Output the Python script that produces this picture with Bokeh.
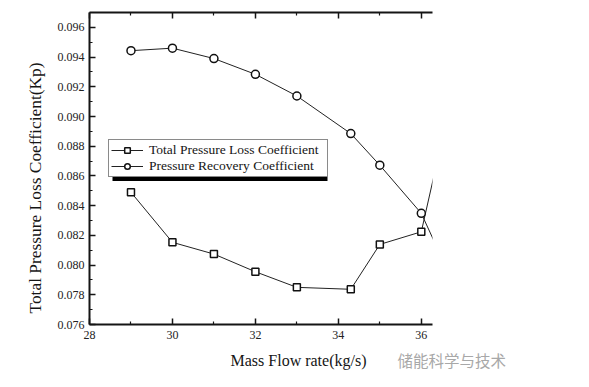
from bokeh.plotting import figure
from bokeh.models import (LinearAxis, Legend, LegendItem, Title, BoxAnnotation,
                          FixedTicker, Range1d, PrintfTickFormatter)
from bokeh.embed import file_html
from bokeh.resources import INLINE

# ---- data ----
mass_flow = [29, 30, 31, 32, 33, 34.3, 35, 36, 37]
loss_coef = [0.0849, 0.08153, 0.08074, 0.07955, 0.0785, 0.07837, 0.08139, 0.08224, 0.0946]
recovery_coef = [0.09443, 0.0946, 0.0939, 0.09284, 0.09138, 0.08885, 0.08672, 0.08348, 0.0774]
x_ticks = [28, 30, 32, 34, 36]
x_minor = [29, 31, 33, 35]
y_ticks = [0.076, 0.078, 0.080, 0.082, 0.084, 0.086, 0.088, 0.090, 0.092, 0.094, 0.096]
y_minor = [0.077, 0.079, 0.081, 0.083, 0.085, 0.087, 0.089, 0.091, 0.093, 0.095]
x_label = "Mass Flow rate(kg/s)"
y_label = "Total Pressure Loss Coefficient(Kp)"
series_names = ["Total Pressure Loss Coefficient", "Pressure Recovery Coefficient"]
watermark = "储能科学与技术"

FONT = "Liberation Serif"
INK = "#151515"

p = figure(width=573, height=379,
           x_range=Range1d(28, 36.27), y_range=Range1d(0.076, 0.097),
           output_backend="svg", toolbar_location=None,
           min_border_left=89, min_border_right=141,
           min_border_top=12, min_border_bottom=55,
           x_axis_location=None, y_axis_location=None)
p.outline_line_color = None
p.xgrid.visible = False
p.ygrid.visible = False
p.background_fill_color = "white"
p.border_fill_color = "white"


def style_axis(ax, ticks, minor):
    ax.ticker = FixedTicker(ticks=ticks, minor_ticks=minor)
    ax.axis_line_color = INK
    ax.axis_line_width = 2
    ax.major_tick_line_color = INK
    ax.major_tick_line_width = 1.5
    ax.minor_tick_line_color = INK
    ax.minor_tick_line_width = 1.2
    ax.major_tick_in = 6
    ax.major_tick_out = 0
    ax.minor_tick_in = 3
    ax.minor_tick_out = 0
    ax.major_label_text_font = FONT
    ax.major_label_text_color = "#222222"
    ax.major_label_text_font_size = "12px"
    ax.major_label_standoff = 6


xb = LinearAxis()
style_axis(xb, x_ticks, x_minor)
p.add_layout(xb, "below")

yl = LinearAxis()
style_axis(yl, y_ticks, y_minor)
yl.formatter = PrintfTickFormatter(format="%.3f")
yl.major_label_standoff = 5
p.add_layout(yl, "left")

xt = LinearAxis()
style_axis(xt, x_ticks, x_minor)
xt.major_label_overrides = {t: "" for t in x_ticks}
xt.major_label_standoff = 0
p.add_layout(xt, "above")

# ---- axis titles (as offset titles so they sit where the reference has them) ----
p.add_layout(Title(text=y_label, align="left", offset=11, standoff=20,
                   text_font=FONT, text_font_size="17.4px", text_font_style="normal",
                   text_color=INK), "left")
p.add_layout(Title(text=x_label, align="left", offset=141, standoff=16,
                   text_font=FONT, text_font_size="16px", text_font_style="normal",
                   text_color=INK), "below")
p.add_layout(Title(text=watermark, align="left", offset=308, standoff=-56,
                   vertical_align="top",
                   text_font="Noto Sans CJK SC", text_font_size="15.5px",
                   text_font_style="normal", text_color="#a8a8a8"), "below")

# ---- series ----
l1 = p.line(mass_flow, loss_coef, line_color="#222222", line_width=1)
s1 = p.scatter(mass_flow, loss_coef, marker="square", size=7,
               fill_color="white", line_color="#111111", line_width=1.5)
l2 = p.line(mass_flow, recovery_coef, line_color="#222222", line_width=1)
s2 = p.scatter(mass_flow, recovery_coef, marker="circle", size=8,
               fill_color="white", line_color="#111111", line_width=1.5)

# ---- legend with drop shadow ----
shadow = BoxAnnotation(left=23, right=238, bottom=143.5, top=178.5,
                       left_units="screen", right_units="screen",
                       bottom_units="screen", top_units="screen",
                       fill_color="black", fill_alpha=1, line_color=None, level="overlay")
p.add_layout(shadow)

legend = Legend(items=[LegendItem(label=series_names[0], renderers=[l1, s1]),
                       LegendItem(label=series_names[1], renderers=[l2, s2])],
                location=(19, 147.5), orientation="vertical")
legend.label_text_font = FONT
legend.label_text_font_size = "13.5px"
legend.label_text_color = INK
legend.label_height = 14
legend.label_width = 176
legend.glyph_height = 14
legend.glyph_width = 32
legend.label_standoff = 6
legend.spacing = 0
legend.padding = 2
legend.margin = 0
legend.border_line_color = INK
legend.border_line_width = 1.2
legend.background_fill_color = "white"
legend.background_fill_alpha = 1
p.add_layout(legend, "center")

open("out.html", "w").write(file_html(p, INLINE))
